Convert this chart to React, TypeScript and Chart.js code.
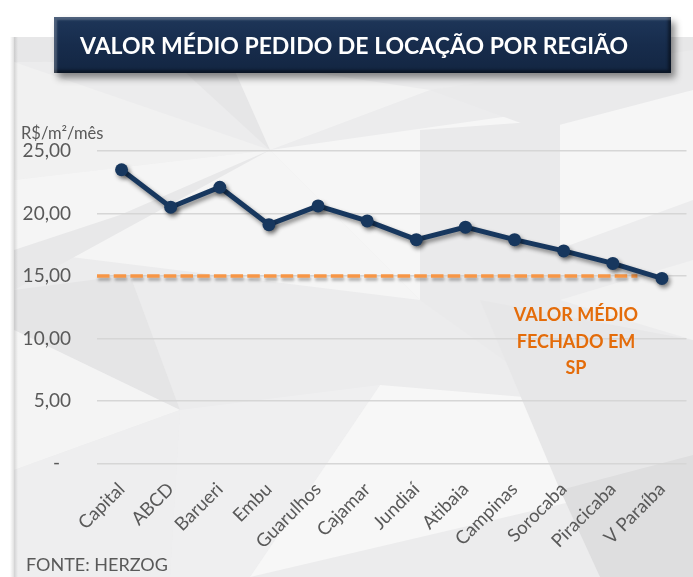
import React, { useEffect, useRef } from 'react';
import { Chart, registerables } from 'chart.js';

Chart.register(...registerables);

const categories = ['Capital', 'ABCD', 'Barueri', 'Embu', 'Guarulhos', 'Cajamar', 'Jundiaí', 'Atibaia', 'Campinas', 'Sorocaba', 'Piracicaba', 'V Paraíba'];
const askingRent = [23.5, 20.5, 22.1, 19.1, 20.6, 19.4, 17.9, 18.9, 17.9, 17.0, 16.0, 14.8];
const closedAverageSP = 15;
const yMin = 0;
const yMax = 25;
const yStep = 5;

const FONT = 'Lato, "Open Sans", "DejaVu Sans", sans-serif';

type Poly = [string, number[][]];
const bgPolys: Poly[] = [
  ['#E7E7E8', [[14, 37], [693, 37], [693, 60], [14, 62]]],
  ['#F1F1F1', [[14, 62], [270, 150], [14, 180]]],
  ['#E6E6E7', [[150, 40], [330, 40], [270, 150]]],
  ['#F3F3F3', [[230, 60], [430, 90], [270, 150]]],
  ['#F5F5F5', [[14, 180], [270, 150], [420, 300], [14, 250]]],
  ['#E8E8E9', [[14, 250], [120, 215], [270, 150], [14, 290]]],
  ['#F6F6F6', [[270, 150], [693, 90], [693, 200], [420, 300]]],
  ['#EAEAEB', [[430, 90], [693, 50], [693, 90], [540, 130]]],
  ['#EAEAEB', [[420, 130], [560, 120], [560, 400], [420, 300]]],
  ['#E5E5E6', [[14, 290], [130, 275], [180, 410], [14, 330]]],
  ['#F4F4F4', [[14, 330], [180, 410], [14, 470]]],
  ['#EFEFF0', [[180, 410], [380, 385], [250, 577], [170, 577]]],
  ['#F7F7F7', [[380, 385], [560, 400], [600, 495], [250, 577]]],
  ['#E7E7E8', [[480, 300], [693, 340], [693, 460], [560, 490]]],
  ['#F2F2F2', [[560, 300], [693, 260], [693, 340]]],
  ['#DEDEDF', [[560, 490], [693, 455], [693, 577], [600, 577]]],
  ['#EEEEEF', [[14, 470], [180, 410], [170, 577], [14, 577]]],
];

const backgroundPlugin = {
  id: 'bgPanel',
  beforeDraw(chart: any) {
    const ctx = chart.ctx as CanvasRenderingContext2D;
    const w = chart.width;
    const h = chart.height;
    ctx.save();
    ctx.fillStyle = '#FFFFFF';
    ctx.fillRect(0, 0, w, h);
    ctx.fillStyle = '#ECECED';
    ctx.fillRect(14, 37, w - 14, h - 37);
    bgPolys.forEach(([color, pts]) => {
      ctx.beginPath();
      pts.forEach(([px, py], i) => (i === 0 ? ctx.moveTo(px, py) : ctx.lineTo(px, py)));
      ctx.closePath();
      ctx.fillStyle = color;
      ctx.fill();
    });
    const g = ctx.createLinearGradient(10, 0, 18, 0);
    g.addColorStop(0, 'rgba(0,0,0,0)');
    g.addColorStop(0.5, 'rgba(0,0,0,0.12)');
    g.addColorStop(1, 'rgba(0,0,0,0)');
    ctx.fillStyle = g;
    ctx.fillRect(10, 37, 8, h - 37);
    ctx.restore();
  },
};

const refLinePlugin = {
  id: 'refLine',
  beforeDatasetsDraw(chart: any) {
    const { ctx, scales, chartArea } = chart;
    const x = scales.x;
    const y = scales.y;
    const yp = y.getPixelForValue(closedAverageSP);
    const x0 = chartArea.left;
    const n = categories.length;
    const x1 = (x.getPixelForValue(n - 2) + x.getPixelForValue(n - 1)) / 2;
    ctx.save();
    ctx.shadowColor = 'rgba(0,0,0,0.3)';
    ctx.shadowBlur = 3;
    ctx.shadowOffsetX = 1;
    ctx.shadowOffsetY = 3;
    ctx.setLineDash([12.5, 4.2]);
    ctx.lineWidth = 3.5;
    ctx.strokeStyle = '#F79646';
    ctx.beginPath();
    ctx.moveTo(x0, yp);
    ctx.lineTo(x1, yp);
    ctx.stroke();
    ctx.restore();
  },
};

const shadowPlugin = {
  id: 'lineShadow',
  beforeDatasetDraw(chart: any) {
    const ctx = chart.ctx;
    ctx.save();
    ctx.shadowColor = 'rgba(0,0,0,0.45)';
    ctx.shadowBlur = 4;
    ctx.shadowOffsetX = 2;
    ctx.shadowOffsetY = 3;
  },
  afterDatasetDraw(chart: any) {
    chart.ctx.restore();
  },
};

export default function App() {
  const canvasRef = useRef<HTMLCanvasElement | null>(null);

  useEffect(() => {
    if (!canvasRef.current) return;
    const chart = new Chart(canvasRef.current, {
      type: 'line',
      data: {
        labels: categories,
        datasets: [
          {
            label: 'Valor médio pedido',
            data: askingRent,
            borderColor: '#17375E',
            backgroundColor: '#17375E',
            borderWidth: 5,
            tension: 0,
            pointRadius: 6.5,
            pointBackgroundColor: '#17375E',
            pointBorderColor: '#17375E',
            pointBorderWidth: 0,
          },
        ],
      },
      options: {
        animation: false,
        responsive: false,
        devicePixelRatio: 1,
        layout: { padding: { top: 151, right: 1, bottom: 0, left: 0 } },
        plugins: {
          legend: { display: false },
          tooltip: { enabled: false },
          title: { display: false },
        },
        scales: {
          x: {
            type: 'category',
            offset: true,
            grid: { display: false, drawTicks: false },
            border: { display: false },
            ticks: {
              autoSkip: false,
              minRotation: 45,
              maxRotation: 45,
              padding: 15,
              color: '#595959',
              font: { family: FONT, size: 18.5 },
            },
            afterFit(scale: any) {
              scale.height = 113.7;
            },
          },
          y: {
            min: yMin,
            max: yMax,
            grid: { color: '#D6D6D6', lineWidth: 1.5, drawTicks: false },
            border: { display: false },
            ticks: {
              stepSize: yStep,
              padding: 26,
              color: '#595959',
              font: { family: FONT, size: 19 },
              callback: (v: any) => (Number(v) === 0 ? '-\u2007' : Number(v).toFixed(2).replace('.', ',')),
            },
            afterFit(scale: any) {
              scale.width = 97;
            },
          },
        },
      },
      plugins: [backgroundPlugin, refLinePlugin, shadowPlugin],
    });
    return () => chart.destroy();
  }, []);

  return (
    <div style={{ position: 'absolute', left: 0, top: 0, width: 693, height: 577, overflow: 'hidden', fontFamily: FONT }}>
      <canvas ref={canvasRef} width={693} height={577} style={{ display: 'block', width: 693, height: 577 }} />
      <div
        style={{
          position: 'absolute',
          left: 54,
          top: 17,
          width: 617,
          height: 56,
          boxSizing: 'border-box',
          background: 'linear-gradient(180deg, #1E3659 0%, #172C4C 50%, #132642 100%)',
          boxShadow: 'inset 3px 3px 2px rgba(255,255,255,0.22), inset -3px -3px 3px rgba(0,0,0,0.45), 4px 5px 7px rgba(0,0,0,0.45)',
          color: '#FFFFFF',
          fontWeight: 700,
          fontSize: 23,
          lineHeight: '56px',
          paddingLeft: 26,
          whiteSpace: 'nowrap',
        }}
      >
        VALOR MÉDIO PEDIDO DE LOCAÇÃO POR REGIÃO
      </div>
      <div style={{ position: 'absolute', left: 21, top: 122, fontSize: 16.5, lineHeight: '22px', color: '#595959', whiteSpace: 'nowrap' }}>
        R$/m²/mês
      </div>
      <div
        style={{
          position: 'absolute',
          left: 476,
          top: 301,
          width: 200,
          textAlign: 'center',
          fontSize: 18,
          fontWeight: 700,
          lineHeight: '26.5px',
          color: '#E46C0A',
        }}
      >
        VALOR MÉDIO
        <br />
        FECHADO EM
        <br />
        SP
      </div>
      <div style={{ position: 'absolute', left: 26, top: 552, fontSize: 18, lineHeight: '24px', color: '#595959', whiteSpace: 'nowrap' }}>
        FONTE: HERZOG
      </div>
    </div>
  );
}
